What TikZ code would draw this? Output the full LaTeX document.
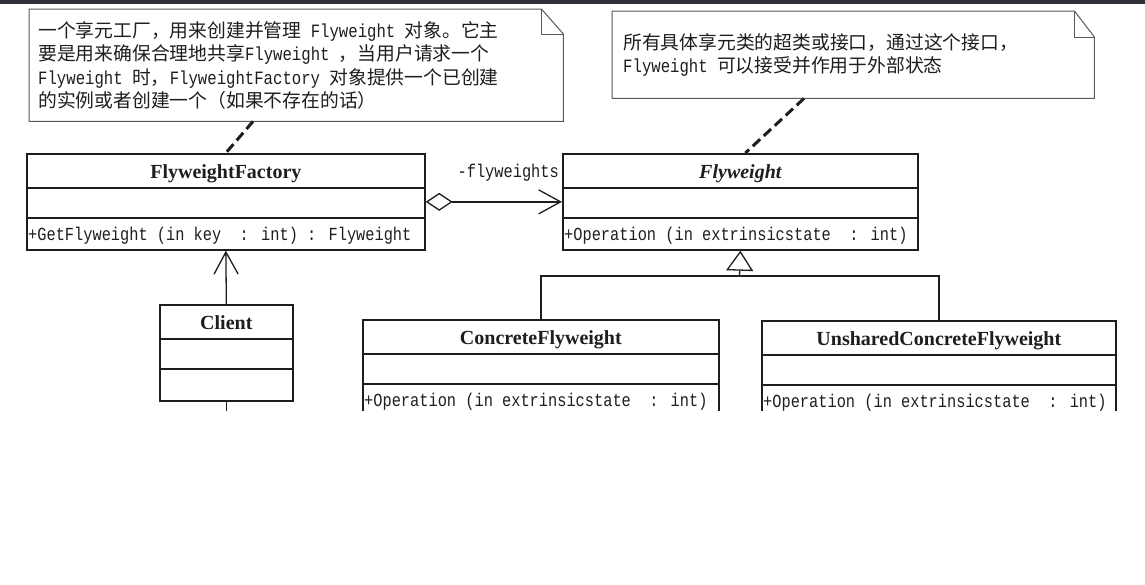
\documentclass[tikz,border=0pt]{standalone}
\usepackage{fontspec}
\setmainfont{Liberation Serif}
\newfontfamily\cjkfont{Noto Sans CJK SC}
\newfontfamily\monofont[FakeStretch=0.833]{Liberation Mono}
\newcommand\lat[1]{{\monofont #1}}
\usetikzlibrary{arrows.meta}
\definecolor{ink}{HTML}{1E1E1E}
\definecolor{notegray}{HTML}{5A5A5A}
\definecolor{topbar}{HTML}{2E3236}
\begin{document}
\begin{tikzpicture}[x=1pt,y=-1pt,
  umlbox/.style={draw=ink, line width=1.7pt, rectangle, inner sep=0pt, anchor=north west, minimum height=96pt},
  divider/.style={draw=ink, line width=1.5pt},
  ctitle/.style={font=\fontsize{20}{22}\selectfont\bfseries, text=ink, inner sep=0pt, anchor=base},
  cmeth/.style={font=\fontsize{18.4}{20}\selectfont\monofont, text=ink, inner sep=0pt, anchor=base west},
  noteframe/.style={inner sep=0pt, anchor=north west},
  noteshape/.style={draw=notegray, line width=1pt, line join=miter},
  notetext/.style={font=\fontsize{18.8}{23.5}\selectfont\cjkfont, text=ink, inner sep=0pt, anchor=north west, align=left},
  conn/.style={draw=ink, line width=1.3pt},
  notelink/.style={draw=ink, line width=3pt, dash pattern=on 10pt off 5pt},
]
\useasboundingbox (0,0) rectangle (1145,584);
\fill[white] (0,0) rectangle (1145,584);
\fill[topbar] (0,0) rectangle (1145,4);

\begin{scope}
\clip (0,4) rectangle (1145,410);

% ---------- notes ----------
\node[noteframe, minimum width=534pt, minimum height=112pt] (n1) at (29,9) {};
\draw[noteshape] (n1.north west) -- ([xshift=-22pt]n1.north east) -- ([yshift=-25pt]n1.north east) -- (n1.south east) -- (n1.south west) -- cycle;
\draw[noteshape] ([xshift=-22pt]n1.north east) -- ([xshift=-22pt,yshift=-25pt]n1.north east) -- ([yshift=-25pt]n1.north east);
\node[notetext] (n1t) at (38,21) {一个享元工厂，用来创建并管理\lat{ Flyweight }对象。它主\\
要是用来确保合理地共享\lat{Flyweight }，当用户请求一个\\
\lat{Flyweight }时，\lat{FlyweightFactory }对象提供一个已创建\\
的实例或者创建一个（如果不存在的话）};

\node[noteframe, minimum width=482pt, minimum height=87pt] (n2) at (612,11) {};
\draw[noteshape] (n2.north west) -- ([xshift=-20pt]n2.north east) -- ([yshift=-26pt]n2.north east) -- (n2.south east) -- (n2.south west) -- cycle;
\draw[noteshape] ([xshift=-20pt]n2.north east) -- ([xshift=-20pt,yshift=-26pt]n2.north east) -- ([yshift=-26pt]n2.north east);
\node[notetext] (n2t) at (623,33) {所有具体享元类的超类或接口，通过这个接口，\\
\lat{Flyweight }可以接受并作用于外部状态};

% ---------- classes ----------
\node[umlbox, minimum width=398pt] (ff) at (26,153) {};
\draw[divider] ([yshift=-35pt]ff.north west) -- ([yshift=-35pt]ff.north east);
\draw[divider] ([yshift=-65pt]ff.north west) -- ([yshift=-65pt]ff.north east);
\node[ctitle] (fft) at ([yshift=-25pt]ff.north) {FlyweightFactory};
\node[cmeth] (ffm) at ([xshift=2pt,yshift=-87pt]ff.north west) {+GetFlyweight (in key~ : int) : Flyweight};

\node[umlbox, minimum width=355pt] (fw) at (562,153) {};
\draw[divider] ([yshift=-35pt]fw.north west) -- ([yshift=-35pt]fw.north east);
\draw[divider] ([yshift=-65pt]fw.north west) -- ([yshift=-65pt]fw.north east);
\node[ctitle, font=\fontsize{20}{22}\selectfont\bfseries\itshape] (fwt) at ([yshift=-25pt]fw.north) {Flyweight};
\node[cmeth] (fwm) at ([xshift=2pt,yshift=-87pt]fw.north west) {+Operation (in extrinsicstate~ : int)};

\node[umlbox, minimum width=133pt] (cl) at (159,304) {};
\draw[divider] ([yshift=-35pt]cl.north west) -- ([yshift=-35pt]cl.north east);
\draw[divider] ([yshift=-65pt]cl.north west) -- ([yshift=-65pt]cl.north east);
\node[ctitle] (clt) at ([yshift=-25pt]cl.north) {Client};

\node[umlbox, minimum width=356pt] (cf) at (362,319) {};
\draw[divider] ([yshift=-35pt]cf.north west) -- ([yshift=-35pt]cf.north east);
\draw[divider] ([yshift=-65pt]cf.north west) -- ([yshift=-65pt]cf.north east);
\node[ctitle] (cft) at ([yshift=-25pt]cf.north) {ConcreteFlyweight};
\node[cmeth] (cfm) at ([xshift=2pt,yshift=-87pt]cf.north west) {+Operation (in extrinsicstate~ : int)};

\node[umlbox, minimum width=354pt] (uf) at (761,320) {};
\draw[divider] ([yshift=-35pt]uf.north west) -- ([yshift=-35pt]uf.north east);
\draw[divider] ([yshift=-65pt]uf.north west) -- ([yshift=-65pt]uf.north east);
\node[ctitle] (uft) at ([yshift=-25pt]uf.north) {UnsharedConcreteFlyweight};
\node[cmeth] (ufm) at ([xshift=2pt,yshift=-87pt]uf.north west) {+Operation (in extrinsicstate~ : int)};

% ---------- connectors ----------
\draw[notelink] ([xshift=224pt]n1.south west) -- (ff.north);
\draw[notelink] ([xshift=192pt]n2.south west) -- ([xshift=5pt]fw.north);

\draw[conn, {Diamond[open, length=27pt, width=18pt, line width=1.3pt]}-{Straight Barb[length=22pt, width=24pt, line width=1.3pt]}] (ff.east) -- (fw.west);
\node[cmeth, anchor=base east] (lab) at ([xshift=-3pt,yshift=24pt]fw.west) {-flyweights};

\draw[conn, -{Straight Barb[length=22pt, width=24pt, line width=1.3pt]}] (cl.north) -- (ff.south);
\coordinate (clend) at ([yshift=-20pt]cl.south);
\draw[conn] (cl.south) -- (clend);

\coordinate (jn) at (739.5,276);
\draw[conn] (cf.north) |- (jn) -| (uf.north);
\draw[conn, -{Triangle[open, length=20pt, width=27pt, line width=1.3pt]}] (jn) -- (fw.south);
\end{scope}
\end{tikzpicture}
\end{document}
